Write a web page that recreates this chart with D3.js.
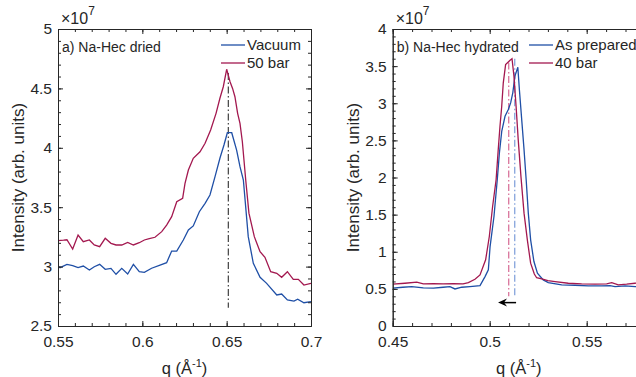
<!DOCTYPE html>
<html>
<head>
<meta charset="utf-8">
<script src="https://cdn.jsdelivr.net/npm/d3@7"></script>
<style>
  body { margin: 0; background: #fff; }
  text { font-family: "Liberation Sans", Arial, sans-serif; fill: #262626; }
</style>
</head>
<body>
<div id="chart"></div>
<script>
// ---- panel a) Na-Hec dried (intensity in 1e7 units)
var qVacuum = [0.550, 0.5512, 0.5553, 0.5587, 0.5619, 0.565, 0.5686, 0.5715, 0.5747, 0.578,
  0.5814, 0.5844, 0.5878, 0.5913, 0.5947, 0.5982, 0.6012, 0.6055, 0.6105, 0.6144,
  0.6174, 0.6204, 0.6243, 0.6273, 0.6302, 0.6338, 0.6372, 0.6401, 0.6431, 0.646,
  0.6484, 0.6504, 0.6530, 0.6559, 0.6579, 0.6599, 0.6628, 0.6658, 0.6698, 0.6737,
  0.6797, 0.6826, 0.6860, 0.6899, 0.6921, 0.6958, 0.700];
var iVacuum = [3.005, 2.991, 3.019, 3.008, 2.991, 3.005, 2.971, 2.999, 3.019, 2.977,
  2.985, 2.935, 2.985, 2.938, 3.019, 2.957, 2.952, 2.986, 3.013, 3.033,
  3.131, 3.131, 3.224, 3.308, 3.342, 3.462, 3.533, 3.603, 3.757, 3.912,
  4.024, 4.127, 4.127, 3.981, 3.841, 3.729, 3.252, 3.028, 2.910, 2.859,
  2.761, 2.769, 2.719, 2.710, 2.725, 2.696, 2.705];

var q50bar = [0.550, 0.5533, 0.5553, 0.5587, 0.5619, 0.565, 0.5686, 0.5715, 0.5747, 0.578,
  0.5814, 0.5844, 0.5878, 0.5913, 0.5947, 0.5982, 0.6012, 0.6041, 0.6075, 0.6115,
  0.6144, 0.6174, 0.6204, 0.6239, 0.6253, 0.6273, 0.6302, 0.6342, 0.6372, 0.6405,
  0.6437, 0.6460, 0.648, 0.650, 0.652, 0.6535, 0.6549, 0.6565, 0.6579, 0.6593,
  0.6613, 0.6632, 0.6664, 0.6698, 0.6727, 0.6761, 0.6797, 0.6826, 0.6860, 0.6895,
  0.6925, 0.6958, 0.700];
var i50bar = [3.218, 3.222, 3.226, 3.148, 3.266, 3.210, 3.224, 3.182, 3.168, 3.238,
  3.196, 3.182, 3.182, 3.204, 3.182, 3.201, 3.224, 3.235, 3.247, 3.294,
  3.350, 3.420, 3.546, 3.575, 3.701, 3.813, 3.912, 3.967, 4.038, 4.150,
  4.290, 4.417, 4.514, 4.661, 4.556, 4.500, 4.430, 4.290, 4.206, 4.051,
  3.729, 3.450, 3.252, 3.125, 3.078, 2.957, 2.944, 2.910, 2.957, 2.893,
  2.893, 2.845, 2.859];

var peakA = 0.651;
var xTicksA = [0.55, 0.6, 0.65, 0.7];
var yTicksA = [2.5, 3, 3.5, 4, 4.5, 5];

// ---- panel b) Na-Hec hydrated (intensity in 1e7 units)
var qPrepared = [0.450, 0.4552, 0.4598, 0.4658, 0.4710, 0.4760, 0.4795, 0.4821, 0.4856, 0.4898,
  0.4950, 0.4976, 0.4993, 0.5002, 0.5022, 0.5039, 0.5050, 0.5062, 0.5079, 0.5096,
  0.5108, 0.5119, 0.5130, 0.5145, 0.5153, 0.5165, 0.5177, 0.5188, 0.5199, 0.5211,
  0.5228, 0.5246, 0.5276, 0.5302, 0.5371, 0.5440, 0.5508, 0.5577, 0.5620, 0.5646,
  0.5698, 0.5749, 0.580];
var iPrepared = [0.509, 0.522, 0.531, 0.513, 0.509, 0.522, 0.531, 0.499, 0.522, 0.531,
  0.544, 0.665, 0.756, 1.07, 1.475, 1.97, 2.33, 2.62, 2.825, 2.915,
  3.005, 3.14, 3.365, 3.485, 3.185, 2.78, 2.375, 1.97, 1.52, 1.16,
  0.868, 0.711, 0.621, 0.585, 0.553, 0.549, 0.540, 0.540, 0.544, 0.531,
  0.540, 0.531, 0.530];

var q40bar = [0.450, 0.4563, 0.4624, 0.4658, 0.4710, 0.4760, 0.4812, 0.4863, 0.4890, 0.4924,
  0.4950, 0.4979, 0.4998, 0.5015, 0.5033, 0.5044, 0.5053, 0.5062, 0.5070, 0.5082,
  0.5105, 0.5115, 0.5125, 0.5136, 0.5147, 0.5161, 0.5177, 0.5194, 0.5211, 0.5230,
  0.5242, 0.5268, 0.5300, 0.5337, 0.5405, 0.5474, 0.5543, 0.5603, 0.5629, 0.5663,
  0.5706, 0.5749, 0.580];
var i40bar = [0.563, 0.576, 0.590, 0.567, 0.570, 0.568, 0.571, 0.567, 0.585, 0.630,
  0.688, 0.891, 1.205, 1.61, 1.97, 2.375, 2.69, 2.96, 3.275, 3.52,
  3.58, 3.60, 3.365, 2.96, 2.51, 2.015, 1.52, 1.16, 0.846, 0.70,
  0.650, 0.634, 0.610, 0.598, 0.576, 0.567, 0.563, 0.567, 0.585, 0.553,
  0.563, 0.576, 0.580];

var peaksB = [0.5098, 0.5129];
var arrowB = [0.5136, 0.5043];
var xTicksB = [0.45, 0.5, 0.55];
var yTicksB = [0, 0.5, 1, 1.5, 2, 2.5, 3, 3.5, 4];

var blue = "#1f4fa6", red = "#a3184f";

var svg = d3.select("#chart")
  .append("svg")
    .attr("width", 636)
    .attr("height", 377);

function minorTicks(d0, d1, step) {
  var n = Math.round((d1 - d0) / step);
  return d3.range(n + 1).map(function(i) { return +(d0 + i * step).toFixed(4); });
}

function drawPanel(o) {
  var x = d3.scaleLinear().domain(o.xDomain).range([o.left, o.right]);
  var y = d3.scaleLinear().domain(o.yDomain).range([o.bottom, o.top]);
  var g = svg.append("g");

  var clipId = "clip" + o.id;
  g.append("clipPath").attr("id", clipId)
    .append("rect")
      .attr("x", o.left).attr("y", o.top)
      .attr("width", o.right - o.left).attr("height", o.bottom - o.top);

  // peak markers (dash-dot)
  o.marks.forEach(function(m) {
    g.append("line")
      .attr("x1", x(m.q)).attr("x2", x(m.q))
      .attr("y1", y(m.from)).attr("y2", y(m.to))
      .attr("stroke", m.color)
      .attr("stroke-width", 1.3)
      .attr("stroke-dasharray", "7,2.5,1.5,2.5");
  });

  // curves
  var line = d3.line()
    .x(function(d) { return x(d[0]); })
    .y(function(d) { return y(d[1]); });
  o.series.forEach(function(s) {
    g.append("path")
      .datum(d3.zip(s.q, s.v))
      .attr("clip-path", "url(#" + clipId + ")")
      .attr("fill", "none")
      .attr("stroke", s.color)
      .attr("stroke-width", 1.3)
      .attr("d", line);
  });

  // axes (MATLAB style: inward ticks on all four sides)
  function styleAxis(sel) {
    sel.selectAll("path,line").attr("stroke", "#262626");
    sel.selectAll("text").style("font-size", "15.5px").attr("fill", "#262626");
  }
  var fmt = function(d) { return String(d); };
  var mx = minorTicks(o.xDomain[0], o.xDomain[1], o.xMinor);
  var my = minorTicks(o.yDomain[0], o.yDomain[1], o.yMinor);

  g.append("g").attr("transform", "translate(0," + o.bottom + ")")
    .call(d3.axisBottom(x).tickValues(mx).tickSize(-3).tickSizeOuter(0).tickFormat(""))
    .call(styleAxis);
  g.append("g").attr("transform", "translate(0," + o.bottom + ")")
    .call(d3.axisBottom(x).tickValues(o.xTicks).tickSize(-5).tickSizeOuter(0).tickPadding(10).tickFormat(fmt))
    .call(styleAxis);
  g.append("g").attr("transform", "translate(0," + o.top + ")")
    .call(d3.axisTop(x).tickValues(mx).tickSize(-3).tickSizeOuter(0).tickFormat(""))
    .call(styleAxis);
  g.append("g").attr("transform", "translate(0," + o.top + ")")
    .call(d3.axisTop(x).tickValues(o.xTicks).tickSize(-5).tickSizeOuter(0).tickFormat(""))
    .call(styleAxis);
  g.append("g").attr("transform", "translate(" + o.left + ",0)")
    .call(d3.axisLeft(y).tickValues(my).tickSize(-3).tickSizeOuter(0).tickFormat(""))
    .call(styleAxis);
  g.append("g").attr("transform", "translate(" + o.left + ",0)")
    .call(d3.axisLeft(y).tickValues(o.yTicks).tickSize(-5).tickSizeOuter(0).tickPadding(6).tickFormat(fmt))
    .call(styleAxis);
  g.append("g").attr("transform", "translate(" + o.right + ",0)")
    .call(d3.axisRight(y).tickValues(my).tickSize(-3).tickSizeOuter(0).tickFormat(""))
    .call(styleAxis);
  g.append("g").attr("transform", "translate(" + o.right + ",0)")
    .call(d3.axisRight(y).tickValues(o.yTicks).tickSize(-5).tickSizeOuter(0).tickFormat(""))
    .call(styleAxis);

  // exponent label
  var ex = g.append("text").attr("x", o.left + 3).attr("y", o.top - 5)
    .style("font-size", "16px").attr("fill", "#404040");
  ex.append("tspan").text("\u00d710");
  ex.append("tspan").attr("dy", -9).style("font-size", "12px").text("7");

  // axis titles
  var xl = g.append("text")
    .attr("x", (o.left + o.right) / 2).attr("y", 374)
    .attr("text-anchor", "middle")
    .style("font-size", "16.5px");
  xl.append("tspan").text("q (\u00c5");
  xl.append("tspan").attr("dy", -7).style("font-size", "11px").text("-1");
  xl.append("tspan").attr("dy", 7).text(")");

  g.append("text")
    .attr("transform", "translate(" + o.yLabelX + "," + ((o.top + o.bottom) / 2) + ") rotate(-90)")
    .attr("text-anchor", "middle")
    .attr("dy", "0.35em")
    .style("font-size", "17px")
    .text("Intensity (arb. units)");

  // panel title
  g.append("text").attr("x", o.left + 4).attr("y", o.top + 23)
    .style("font-size", "14px").text(o.title);

  // legend
  o.series.forEach(function(s, i) {
    var ly = o.top + 16 + i * 18;
    g.append("line")
      .attr("x1", o.legendX).attr("x2", o.legendX + 24)
      .attr("y1", ly).attr("y2", ly)
      .attr("stroke", s.color).attr("stroke-width", 1.3);
    g.append("text")
      .attr("x", o.legendX + 26).attr("y", ly).attr("dy", "0.36em")
      .style("font-size", "15px").text(s.name);
  });

  return { x: x, y: y, g: g };
}

drawPanel({
  id: "a", left: 58, right: 311, top: 29, bottom: 326,
  xDomain: [0.55, 0.7], yDomain: [2.5, 5],
  xTicks: xTicksA, yTicks: yTicksA, xMinor: 0.01, yMinor: 0.1,
  yLabelX: 18, title: "a) Na-Hec dried", legendX: 221,
  series: [
    { name: "Vacuum", q: qVacuum, v: iVacuum, color: blue },
    { name: "50 bar", q: q50bar, v: i50bar, color: red }
  ],
  marks: [{ q: peakA, from: 4.63, to: 2.654, color: "#4d4d4d" }]
});

var pb = drawPanel({
  id: "b", left: 392.7, right: 644.9, top: 29, bottom: 326,
  xDomain: [0.45, 0.58], yDomain: [0, 4],
  xTicks: xTicksB, yTicks: yTicksB, xMinor: 0.01, yMinor: 0.1,
  yLabelX: 353, title: "b) Na-Hec hydrated", legendX: 529,
  series: [
    { name: "As prepared", q: qPrepared, v: iPrepared, color: blue },
    { name: "40 bar", q: q40bar, v: i40bar, color: red }
  ],
  marks: [
    { q: peaksB[0], from: 3.55, to: 0.4, color: "#d9749b" },
    { q: peaksB[1], from: 3.6, to: 0.4, color: "#86a4dc" }
  ]
});

// shift arrow
var ay = pb.y(0.315);
pb.g.append("line")
  .attr("x1", pb.x(arrowB[0])).attr("x2", pb.x(arrowB[1]) + 6)
  .attr("y1", ay).attr("y2", ay)
  .attr("stroke", "#000").attr("stroke-width", 1.5);
pb.g.append("path")
  .attr("d", "M" + pb.x(arrowB[1]) + "," + ay + " l9,-4 l-3,4 l3,4 z")
  .attr("fill", "#000");
</script>
</body>
</html>
